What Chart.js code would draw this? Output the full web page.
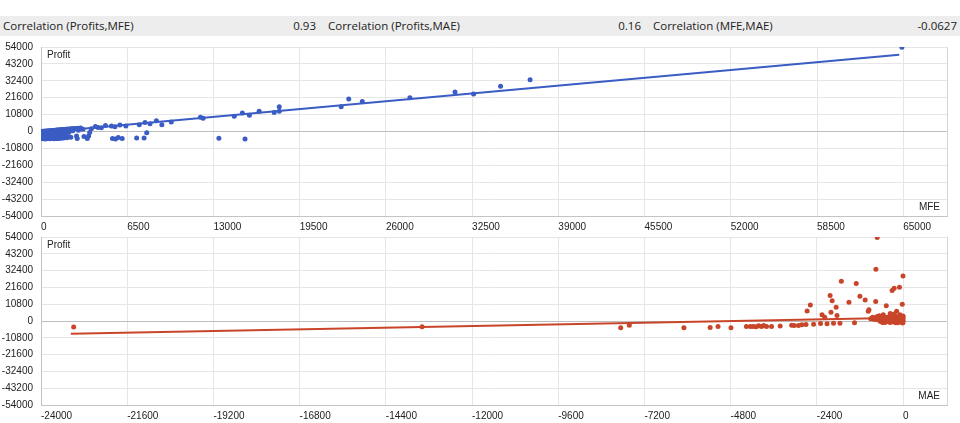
<!DOCTYPE html>
<html>
<head>
<meta charset="utf-8">
<script src="https://cdn.jsdelivr.net/npm/chart.js@4/dist/chart.umd.min.js"></script>
<style>
  body { margin: 0; background: #fff; width: 960px; height: 423px; overflow: hidden; position: relative; }
  #bar { position: absolute; left: 0; top: 16px; width: 960px; height: 20px; background: #ededed;
         font-family: "Open Sans", "Noto Sans", sans-serif; font-size: 11.5px; color: #222; }
  #bar span { position: absolute; top: 0; line-height: 20px; white-space: nowrap; }
  .box { position: absolute; left: 0; width: 960px; }
</style>
</head>
<body>
<div id="bar"></div>
<div class="box" style="top:40px;height:192px"><canvas id="mfeChart"></canvas></div>
<div class="box" style="top:230px;height:191px"><canvas id="maeChart"></canvas></div>
<script>
// header values
const corrLabels = ["Correlation (Profits,MFE)", "Correlation (Profits,MAE)", "Correlation (MFE,MAE)"];
const corrValues = ["0.93", "0.16", "-0.0627"];

// axis ticks
const profitTicks = [-54000, -43200, -32400, -21600, -10800, 0, 10800, 21600, 32400, 43200, 54000];
const mfeTicks = [0, 6500, 13000, 19500, 26000, 32500, 39000, 45500, 52000, 58500, 65000];
const maeTicks = [-24000, -21600, -19200, -16800, -14400, -12000, -9600, -7200, -4800, -2400, 0];

// Profit vs MFE
const mfe = [
  0, 80, 150, 230, 300, 380, 450, 530, 600, 680, 750, 830, 900, 980, 1050, 1130, 1200, 1280,
  1350, 1430, 1500, 1580, 1650, 1730, 1800, 1880, 1950, 2030, 2100, 2200, 2300, 2400, 2500, 2650, 2800,
  0, 100, 200, 300, 400, 500, 600, 700, 800, 900, 1000, 1100, 1200, 1300, 1400, 1500, 1600, 1700, 1800, 1900, 2000, 2100,
  0, 100, 200, 300, 400, 500, 600, 700, 800, 900, 1000, 1100, 1200, 1300, 1400, 1500, 1600, 1700, 1800, 1900,
  0, 80, 160, 240, 330, 410, 490, 570, 650, 740, 820, 900, 990, 1080, 1160, 1250, 1340, 1420, 1510, 1600,
  1700, 1850, 1950, 2100, 2250,
  2400, 2680, 2730, 2830, 2990, 3160, 3240, 3490, 3590, 3670, 3800, 4100, 4300, 4550, 4860, 5310, 5570,
  5390, 5620, 5820, 6120, 5950, 6400, 7410, 7210, 7770, 7970, 7840, 8220, 8700, 9110, 9820,
  12020, 12220, 13410, 14570, 15180, 15380, 15710, 16445, 17580, 17960, 17960,
  22630, 23200, 24220, 27810, 31210, 32610, 34645, 36870, 64900
];
const profitMfe = [
  0, 50, 100, 150, 200, 260, 300, 380, 420, 480, 530, 600, 650, 700, 760, 820, 880, 950,
  1000, 1050, 1100, 1150, 1200, 1270, 1320, 1380, 1420, 1480, 1550, 1600, 1700, 1780, 1850, 1950, 2050,
  -1000, -1300, -900, -1500, -1100, -1400, -800, -1300, -1000, -1600, -700, -1200, -900, -1400, -600, -1100, -500, -900, -300, -700, -200, -500,
  -2600, -2900, -2400, -2800, -2500, -3000, -2600, -2800, -2300, -2900, -2500, -2700, -2200, -2900, -2400, -2700, -2100, -2600, -1900, -2400,
  -4500, -4200, -4600, -4300, -4800, -4400, -4100, -4500, -4700, -4300, -4400, -4200, -4600, -4300, -4500, -4100, -4400, -3900, -4300, -3800,
  -4200, -3600, -4000, -3300, -3700,
  430, -2810, -4540, 860, 2160, 1510, -3240, -4540, -2810, -650, 1730, 3240, 2590, 2380, 3890, 3460, 3020,
  -4540, -4750, -3890, -4540, 4100, 3460, 4320, -4100, -4100, -860, 5830, 4970, 6910, 4320, 6050,
  9070, 8420, -4320, 9720, 11880, -4750, 10370, 12960, 12100, 12960, 15770,
  15770, 20740, 19220, 21600, 25270, 23980, 28940, 33050, 53780
];
const mfeTrendX = [0, 64700];
const mfeTrendY = [-600, 49100];

// Profit vs MAE
const mae = [
  -23090, -13390, -7860, -7620, -6100, -5370, -5150, -4790, -4360, -4250, -4170, -4090, -4020, -3940,
  -3880, -3800, -3660, -3420, -3100, -3030, -2910, -2815, -2700, -2490, -2296, -2115, -1935, -1755, -1350,
  -2670, -2580, -2255, -2180, -2030, -1972, -2005, -1862, -1838, -1717, -1505, -1302, -1200, -1053,
  -967, -948, -846, -760, -755, -718, -466, -356, -302, -247, -98, -20, 0, -244, -177, -86, -735, -662, -550,
  -700, -680, -650, -640, -620, -600, -580, -560, -540, -520, -500, -480, -460, -440, -420, -400, -380, -360,
  -340, -320, -300, -280, -260, -240, -220, -200, -180, -160, -140, -120, -100, -80, -60, -40, -20,
  0, 0, 0, 0, 0, -10, -30, -50, -90, -150, -210, -270, -330, -390, -450, -510, -570, -630, -760, -820, -900
];
const profitMae = [
  -3850, -3650, -4290, -2780, -4300, -4200, -3500, -4300, -3500, -3500, -3500, -3700, -3000, -3500,
  -2900, -3600, -3500, -3200, -2700, -2900, -2900, -2400, -2300, -2100, -1600, -1700, -1400, -1400, -1200,
  6500, 10250, 4050, 2350, 16360, 13030, 5565, 8870, 3525, 25550, 12080, 24060, 15930, 13550,
  6220, 7250, 2370, 12500, 33250, 53600, 9740, 4820, 19575, 21060, 21700, 10800, 28960, 4490, 6220, 4040, 2760, 3400, 4040,
  1500, 800, 2200, -200, 1200, 2800, 400, -600, 1800, 900, -1000, 2400, 300, 1400, -400, 2000, 700, -900,
  1600, 3000, 200, 1100, -700, 2300, 500, -1200, 1700, 2700, 100, 1300, -500, 2100, 800, -1000, 1900,
  3200, 400, -800, 1500, 2400, -1300, 600, 2800, 1000, -1100, 2600, -200, 900, 2700, -300, 1200, -900, 2000, 1000, 1200, 1500
];
const maeTrendX = [-23170, 0];
const maeTrendY = [-8200, 2100];

const BLUE = "#3b5cc4";
const RED = "#c9452a";
const tickFont = { family: "'Liberation Sans', Arial, sans-serif", size: 10 };

document.getElementById("bar").innerHTML = [
  '<span style="left:3px">' + corrLabels[0] + '</span>',
  '<span style="right:644px">' + corrValues[0] + '</span>',
  '<span style="left:328px">' + corrLabels[1] + '</span>',
  '<span style="right:319px">' + corrValues[1] + '</span>',
  '<span style="left:653px">' + corrLabels[2] + '</span>',
  '<span style="right:3px">' + corrValues[2] + '</span>'
].join("");

const framePlugin = {
  id: "frame",
  afterDraw(chart, args, opts) {
    const {ctx, chartArea: a} = chart;
    ctx.save();
    ctx.strokeStyle = "#d6d6d6";
    ctx.lineWidth = 1;
    ctx.beginPath();
    ctx.moveTo(a.right + 0.5, a.top);
    ctx.lineTo(a.right + 0.5, a.bottom);
    ctx.stroke();
    ctx.fillStyle = "#222";
    ctx.font = "10px 'Liberation Sans', Arial, sans-serif";
    ctx.textBaseline = "middle";
    ctx.textAlign = "left";
    ctx.fillText("Profit", a.left + 6, a.top + 8);
    ctx.textAlign = "right";
    ctx.fillText(opts.xName, a.right - 7, a.bottom - 9);
    ctx.restore();
  }
};

function makeChart(id, xs, ys, tx, ty, color, xTicks, xMax, xName) {
  const pts = xs.map((x, i) => ({x: x, y: ys[i]}));
  const trend = tx.map((x, i) => ({x: x, y: ty[i]}));
  return new Chart(document.getElementById(id).getContext("2d"), {
    type: "scatter",
    data: {
      datasets: [
        { data: trend, showLine: true, borderColor: color, borderWidth: 2, pointRadius: 0, order: 2 },
        { data: pts, backgroundColor: color, borderColor: color, pointRadius: 2.5, borderWidth: 0, order: 1 }
      ]
    },
    options: {
      responsive: true,
      maintainAspectRatio: false,
      animation: false,
      layout: { padding: { top: 7, right: 13, left: 0, bottom: 0 } },
      plugins: { legend: { display: false }, tooltip: { enabled: false }, frame: { xName: xName } },
      scales: {
        x: {
          type: "linear",
          min: xTicks[0],
          max: xMax,
          afterBuildTicks: s => { s.ticks = xTicks.map(v => ({value: v})); },
          afterFit: s => { s.height = 16; },
          ticks: { align: "start", padding: 5, color: "#222", font: tickFont, maxRotation: 0, autoSkip: false,
                   callback: v => String(v) },
          grid: { color: "#e6e6e6", drawTicks: false },
          border: { color: "#c4c4c4" }
        },
        y: {
          type: "linear",
          min: profitTicks[0],
          max: profitTicks[profitTicks.length - 1],
          afterBuildTicks: s => { s.ticks = profitTicks.map(v => ({value: v})); },
          afterFit: s => { s.width = 41; s.paddingTop = 0; s.paddingBottom = 0; },
          ticks: { padding: 8, color: "#222", font: tickFont, autoSkip: false, callback: v => String(v) },
          grid: { color: c => (c.tick && c.tick.value === 0 ? "#bdbdbd" : "#e6e6e6"), drawTicks: false },
          border: { color: "#c4c4c4" }
        }
      }
    },
    plugins: [framePlugin]
  });
}

makeChart("mfeChart", mfe, profitMfe, mfeTrendX, mfeTrendY, BLUE, mfeTicks, 68300, "MFE");
makeChart("maeChart", mae, profitMae, maeTrendX, maeTrendY, RED, maeTicks, 1225, "MAE");
</script>
</body>
</html>
